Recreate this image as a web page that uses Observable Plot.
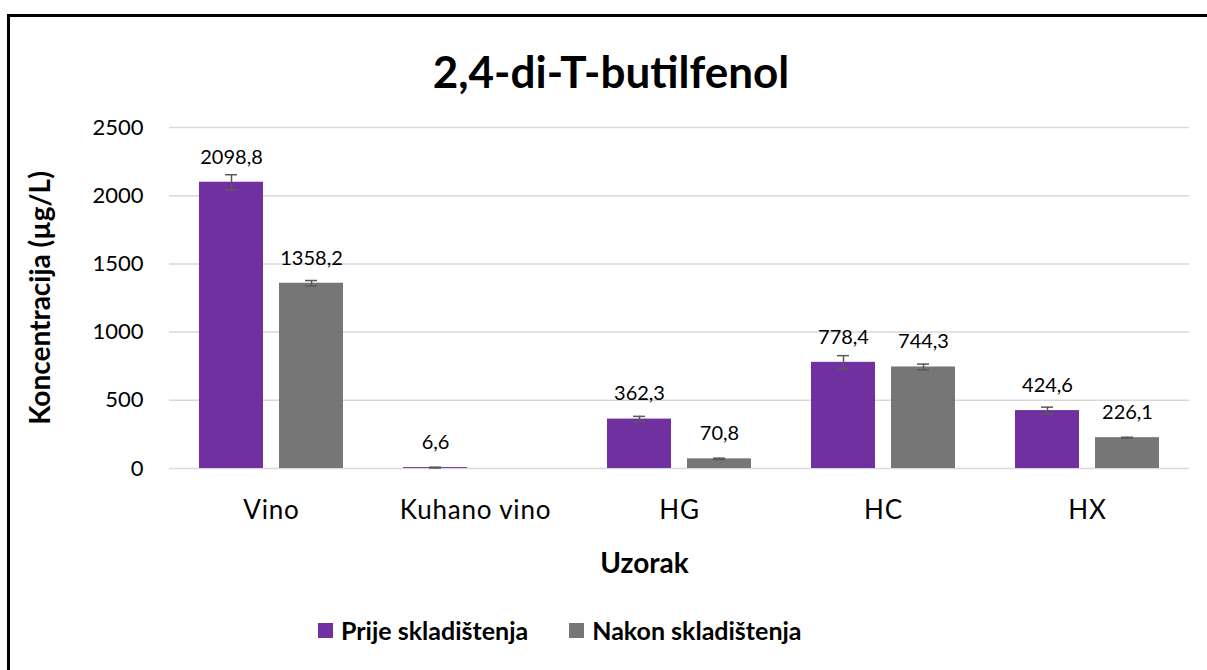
<!DOCTYPE html>
<html>
<head>
<meta charset="utf-8">
<script src="https://cdn.jsdelivr.net/npm/d3@7"></script>
<script src="https://cdn.jsdelivr.net/npm/@observablehq/plot@0.6"></script>
<style>
  html, body { margin:0; padding:0; background:#fff; overflow:hidden; }
  #wrap { position:relative; width:1207px; height:670px; font-family: Lato, "Open Sans", sans-serif; }
  #frame { position:absolute; left:7px; top:14px; width:1300px; height:800px; border-left:3px solid #000; border-top:3px solid #000; }
  #title { position:absolute; left:0; width:1222px; top:45px; text-align:center; font-weight:bold; font-size:44px; color:#000; line-height:52px; }
  #chart { position:absolute; left:0; top:100px; }
  #legend { position:absolute; left:318px; top:615px; display:flex; gap:41px; font-weight:bold; font-size:25px; color:#000; line-height:30px; }
  .item { display:flex; align-items:center; gap:8px; }
  .sw { width:15px; height:15px; display:inline-block; }
  g[aria-label="fx-axis tick label"] text { letter-spacing: 0.8px; }
</style>
</head>
<body>
<div id="wrap">
  <div id="frame"></div>
  <div id="title">2,4-di-T-butilfenol</div>
  <div id="chart"></div>
  <div id="legend"></div>
</div>
<script>
const categories = ["Vino", "Kuhano vino", "HG", "HC", "HX"];
const series = ["Prije skladištenja", "Nakon skladištenja"];
const prije = [2098.8, 6.6, 362.3, 778.4, 424.6];
const nakon = [1358.2, null, 70.8, 744.3, 226.1];
const prijeErr = [55, 3, 20, 49, 25];
const nakonErr = [20, null, 5, 21, 3];
const yTicks = [0, 500, 1000, 1500, 2000, 2500];
const colors = ["#7030A0", "#767676"];

const data = [];
categories.forEach((c, i) => {
  [[series[0], prije[i], prijeErr[i]], [series[1], nakon[i], nakonErr[i]]].forEach(([s, v, e]) => {
    if (v == null) return;
    data.push({cat: c, series: s, value: v, err: e ?? 0, label: v.toFixed(1).replace(".", ",")});
  });
});

const fmt = d => String(d);

const chart = Plot.plot({
  width: 1207,
  height: 500,
  marginTop: 27,
  marginBottom: 132,
  marginLeft: 167,
  marginRight: 17,
  style: {fontFamily: "Lato, 'Open Sans', sans-serif", background: "transparent", color: "#000"},
  fx: {domain: categories, padding: 0},
  x: {domain: series, paddingInner: 0.2, paddingOuter: 0.375, axis: null},
  y: {domain: [0, 2500]},
  color: {domain: series, range: colors},
  marks: [
    Plot.gridY(yTicks, {stroke: "#d9d9d9", strokeOpacity: 1, strokeWidth: 1.5}),
    Plot.barY(data, {fx: "cat", x: "series", y: "value", fill: "series"}),
    Plot.ruleX(data, {fx: "cat", x: "series", y1: d => d.value - d.err, y2: d => d.value + d.err, stroke: "#595959", strokeWidth: 1.5}),
    Plot.tickY(data, {fx: "cat", x: "series", y: d => d.value - d.err, insetLeft: 26, insetRight: 26, stroke: "#595959", strokeWidth: 1.5}),
    Plot.tickY(data, {fx: "cat", x: "series", y: d => d.value + d.err, insetLeft: 26, insetRight: 26, stroke: "#595959", strokeWidth: 1.5}),
    Plot.text(data, {fx: "cat", x: "series", y: "value", text: "label", dy: -25, fontSize: 20, fill: "#000"}),
    Plot.axisY({ticks: yTicks, tickFormat: fmt, tickSize: 0, tickPadding: 26, fontSize: 22, label: null}),
    Plot.axisFx({anchor: "bottom", tickSize: 0, tickPadding: 32, fontSize: 26, label: null}),
    Plot.text(["Koncentracija (µg/L)"], {text: d => d, facet: "super", frameAnchor: "left", textAnchor: "middle", rotate: -90, dx: -128, fontSize: 28, fontWeight: "bold", fill: "#000"}),
    Plot.text(["Uzorak"], {text: d => d, facet: "super", frameAnchor: "bottom", dy: 104, dx: -35, fontSize: 28, fontWeight: "bold", fill: "#000"})
  ]
});
document.getElementById("chart").appendChild(chart);

const legend = document.getElementById("legend");
series.forEach((s, i) => {
  const it = document.createElement("div");
  it.className = "item";
  const sw = document.createElement("span");
  sw.className = "sw";
  sw.style.background = colors[i];
  const t = document.createElement("span");
  t.textContent = s;
  it.appendChild(sw);
  it.appendChild(t);
  legend.appendChild(it);
});
</script>
</body>
</html>
